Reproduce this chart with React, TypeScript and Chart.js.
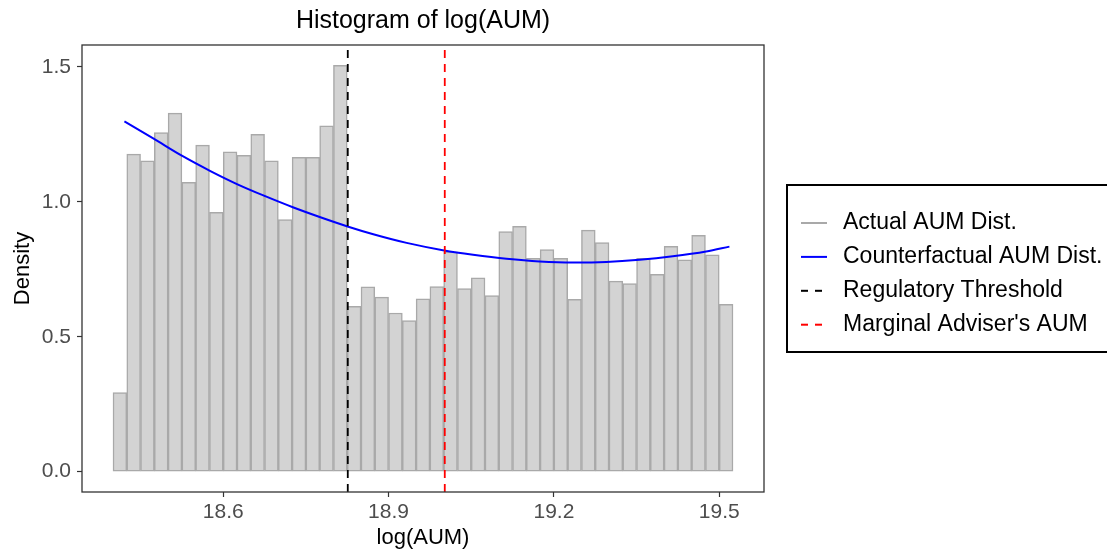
import { useEffect, useRef } from "react";
import { Chart, registerables } from "chart.js";

Chart.register(...registerables);

// ---- data ----
const BIN_MIDS = [
  18.4125, 18.4375, 18.4625, 18.4875, 18.5125, 18.5375, 18.5625, 18.5875, 18.6125, 18.6375,
  18.6625, 18.6875, 18.7125, 18.7375, 18.7625, 18.7875, 18.8125, 18.8375, 18.8625, 18.8875,
  18.9125, 18.9375, 18.9625, 18.9875, 19.0125, 19.0375, 19.0625, 19.0875, 19.1125, 19.1375,
  19.1625, 19.1875, 19.2125, 19.2375, 19.2625, 19.2875, 19.3125, 19.3375, 19.3625, 19.3875,
  19.4125, 19.4375, 19.4625, 19.4875, 19.5125,
];
const DENSITY = [
  0.293, 1.177, 1.152, 1.257, 1.329, 1.072, 1.21, 0.961, 1.185, 1.172,
  1.25, 1.152, 0.934, 1.165, 1.165, 1.282, 1.506, 0.613, 0.685, 0.647,
  0.588, 0.56, 0.641, 0.686, 0.815, 0.679, 0.718, 0.653, 0.89, 0.909,
  0.791, 0.823, 0.791, 0.639, 0.895, 0.849, 0.706, 0.697, 0.791, 0.731,
  0.835, 0.785, 0.876, 0.804, 0.62,
];
const CURVE_X = [
  18.4207, 18.4737, 18.5257, 18.5759, 18.6259, 18.6761, 18.7263, 18.7763, 18.827, 18.8723,
  18.9328, 19.0009, 19.0534, 19.114, 19.1743, 19.2346, 19.2951, 19.3554, 19.4158, 19.4763, 19.5185,
];
const CURVE_Y = [
  1.298, 1.234, 1.17, 1.115, 1.065, 1.021, 0.98, 0.943, 0.908, 0.88,
  0.848, 0.82, 0.804, 0.789, 0.779, 0.775, 0.777, 0.785, 0.798, 0.816, 0.834,
];
const THRESHOLD = 18.826;
const MARGINAL = 19.002;
const X_TICKS = [18.6, 18.9, 19.2, 19.5];
const Y_TICKS = [0, 0.5, 1.0, 1.5];
const X_RANGE = [18.34375, 19.58125];
const Y_RANGE = [-0.0753, 1.5813];
const TITLE = "Histogram of log(AUM)";
const X_TITLE = "log(AUM)";
const Y_TITLE = "Density";
const LEGEND_LABELS = [
  "Actual AUM Dist.",
  "Counterfactual AUM Dist.",
  "Regulatory Threshold",
  "Marginal Adviser's AUM",
];

const FONT = '"Liberation Sans", Arial, sans-serif';
const LEGEND_STYLES = [
  { color: "#A9A9A9", dash: [] as number[] },
  { color: "#0000FF", dash: [] as number[] },
  { color: "#000000", dash: [7, 7] },
  { color: "#FF0000", dash: [7, 7] },
];

const decorPlugin = {
  id: "decor",
  afterDraw(chart: any) {
    const { ctx, chartArea: a } = chart;
    ctx.save();
    // panel border
    ctx.strokeStyle = "#333333";
    ctx.lineWidth = 1.3;
    ctx.setLineDash([]);
    ctx.strokeRect(a.left, a.top, a.right - a.left, a.bottom - a.top);
    // title
    ctx.fillStyle = "#000000";
    ctx.font = `25px ${FONT}`;
    ctx.textAlign = "center";
    ctx.textBaseline = "middle";
    ctx.fillText(TITLE, (a.left + a.right) / 2, 21);
    // legend
    const boxX = a.right + 23;
    const boxY = 185;
    ctx.lineWidth = 2;
    ctx.strokeStyle = "#000000";
    ctx.strokeRect(boxX, boxY, 400, 167);
    ctx.font = `23px ${FONT}`;
    ctx.textAlign = "left";
    LEGEND_LABELS.forEach((label, i) => {
      const y = 223 + i * 33.9;
      const st = LEGEND_STYLES[i];
      ctx.strokeStyle = st.color;
      ctx.lineWidth = 2;
      ctx.setLineDash(st.dash);
      ctx.beginPath();
      ctx.moveTo(boxX + 14, y);
      ctx.lineTo(boxX + 40, y);
      ctx.stroke();
      ctx.setLineDash([]);
      ctx.fillStyle = "#000000";
      ctx.fillText(label, boxX + 56, y);
    });
    ctx.restore();
  },
};

export default function App() {
  const ref = useRef<HTMLCanvasElement | null>(null);

  useEffect(() => {
    document.body.style.margin = "0";
    document.body.style.overflow = "hidden";
    if (!ref.current) return;
    Chart.defaults.font.family = FONT;
    const chart = new Chart(ref.current, {
      type: "bar",
      data: {
        datasets: [
          {
            type: "line",
            data: [
              { x: MARGINAL, y: Y_RANGE[0] },
              { x: MARGINAL, y: Y_RANGE[1] },
            ],
            borderColor: "#FF0000",
            borderWidth: 1.8,
            borderDash: [8, 6],
            pointRadius: 0,
            fill: false,
            order: 1,
          },
          {
            type: "line",
            data: [
              { x: THRESHOLD, y: Y_RANGE[0] },
              { x: THRESHOLD, y: Y_RANGE[1] },
            ],
            borderColor: "#000000",
            borderWidth: 1.8,
            borderDash: [8, 6],
            pointRadius: 0,
            fill: false,
            order: 2,
          },
          {
            type: "line",
            data: CURVE_X.map((x, i) => ({ x, y: CURVE_Y[i] })),
            borderColor: "#0000FF",
            borderWidth: 2,
            pointRadius: 0,
            cubicInterpolationMode: "monotone",
            fill: false,
            order: 3,
          },
          {
            type: "bar",
            data: BIN_MIDS.map((x, i) => ({ x, y: DENSITY[i] })),
            backgroundColor: "#D3D3D3",
            borderColor: "#A9A9A9",
            borderWidth: 1.5,
            borderSkipped: false,
            categoryPercentage: 1,
            barPercentage: 1,
            order: 4,
          },
        ] as any,
      },
      options: {
        animation: false,
        responsive: false,
        devicePixelRatio: 1,
        events: [],
        layout: { padding: { top: 45, right: 343, bottom: 0, left: 0 } },
        plugins: {
          legend: { display: false },
          tooltip: { enabled: false },
          title: { display: false },
        },
        scales: {
          x: {
            type: "linear",
            min: X_RANGE[0],
            max: X_RANGE[1],
            offset: false,
            afterBuildTicks: (s: any) => {
              s.ticks = X_TICKS.map((v) => ({ value: v }));
            },
            afterFit: (s: any) => {
              s.height = 64;
            },
            ticks: {
              autoSkip: false,
              maxRotation: 0,
              padding: 3,
              color: "#4D4D4D",
              font: { size: 21 },
              callback: (v: any) => Number(v).toFixed(1),
            },
            grid: {
              display: true,
              offset: false,
              drawOnChartArea: false,
              drawTicks: true,
              tickLength: 5,
              tickColor: "#333333",
              tickWidth: 1.2,
            },
            border: { display: false },
            title: {
              display: true,
              text: X_TITLE,
              color: "#000000",
              font: { size: 22 },
              padding: { top: 0, bottom: 5 },
            },
          },
          y: {
            type: "linear",
            min: Y_RANGE[0],
            max: Y_RANGE[1],
            afterBuildTicks: (s: any) => {
              s.ticks = Y_TICKS.map((v) => ({ value: v }));
            },
            afterFit: (s: any) => {
              s.width = 82;
            },
            ticks: {
              autoSkip: false,
              padding: 6,
              color: "#4D4D4D",
              font: { size: 21 },
              callback: (v: any) => Number(v).toFixed(1),
            },
            grid: {
              display: true,
              drawOnChartArea: false,
              drawTicks: true,
              tickLength: 5,
              tickColor: "#333333",
              tickWidth: 1.2,
            },
            border: { display: false },
            title: {
              display: true,
              text: Y_TITLE,
              color: "#000000",
              font: { size: 22 },
              padding: { top: 10, bottom: 0 },
            },
          },
        },
      } as any,
      plugins: [decorPlugin],
    });
    return () => chart.destroy();
  }, []);

  return (
    <div style={{ position: "relative", width: 1107, height: 556 }}>
      <canvas ref={ref} width={1107} height={556} style={{ display: "block", width: 1107, height: 556 }} />
    </div>
  );
}
